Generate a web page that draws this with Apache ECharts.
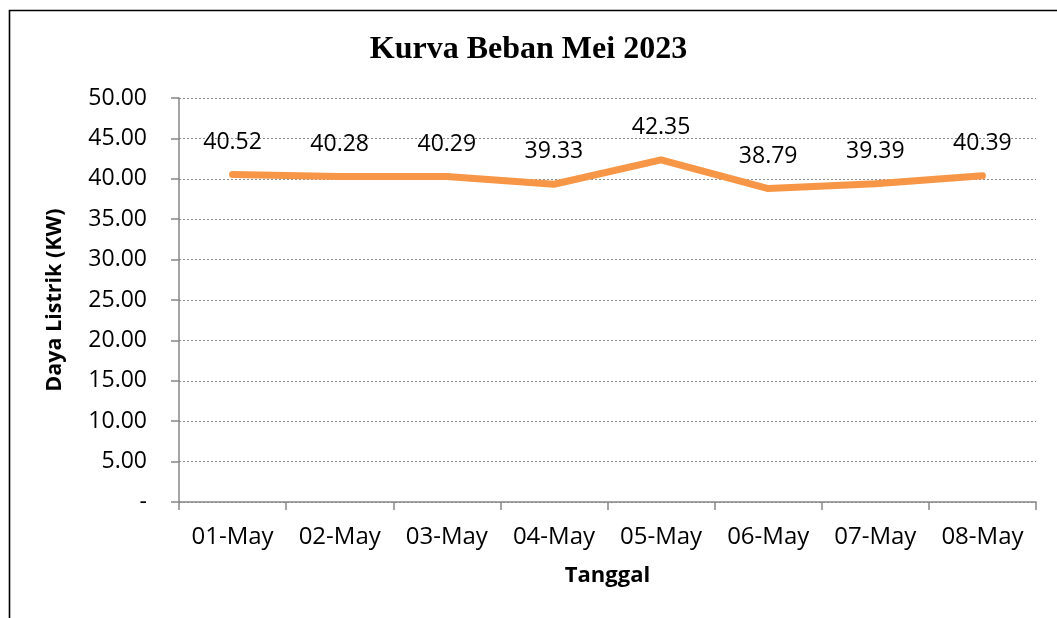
<!DOCTYPE html>
<html>
<head>
<meta charset="utf-8">
<script src="https://cdn.jsdelivr.net/npm/echarts@6/dist/echarts.min.js"></script>
<style>
html,body{margin:0;padding:0;background:#fff;}
#chart{width:1057px;height:618px;}
</style>
</head>
<body>
<div id="chart"></div>
<script>
const categories = ['01-May','02-May','03-May','04-May','05-May','06-May','07-May','08-May'];
const values = [40.52, 40.28, 40.29, 39.33, 42.35, 38.79, 39.39, 40.39];
const yMin = 0, yMax = 50, yStep = 5;
const titleText = 'Kurva Beban Mei 2023';
const xName = 'Tanggal';
const yName = 'Daya Listrik (KW)';

const chart = echarts.init(document.getElementById('chart'), null, {renderer:'canvas'});
const font = 'Open Sans';
chart.setOption({
  backgroundColor:'#ffffff',
  animation:false,
  title:{
    text:titleText, left:'center', top:29,
    textStyle:{fontFamily:'Liberation Serif', fontWeight:'bold', fontSize:32, color:'#000'}
  },
  graphic:[{
    type:'rect', left:7, top:8, silent:true,
    shape:{x:0,y:0,width:1100,height:700},
    style:{fill:'none', stroke:'#000', lineWidth:1.6}
  }],
  grid:{left:179, right:21, top:98, bottom:116},
  xAxis:{
    type:'category', data:categories, boundaryGap:true,
    name:xName, nameLocation:'middle', nameGap:63,
    nameTextStyle:{fontFamily:font, fontWeight:'bold', fontSize:22, color:'#000'},
    axisLine:{lineStyle:{color:'#868686', width:1.5}},
    axisTick:{show:true, length:8, inside:false, lineStyle:{color:'#868686', width:1.5}},
    axisLabel:{fontFamily:font, fontSize:24, color:'#000', margin:23, interval:0},
    splitLine:{show:false}
  },
  yAxis:{
    type:'value', min:yMin, max:yMax, interval:yStep,
    name:yName, nameLocation:'middle', nameGap:113, nameRotate:90,
    nameTextStyle:{fontFamily:font, fontWeight:'bold', fontSize:21.5, color:'#000'},
    axisLine:{show:true, lineStyle:{color:'#868686', width:1.5}},
    axisTick:{show:true, length:8, lineStyle:{color:'#868686', width:1.5}},
    axisLabel:{fontFamily:font, fontSize:23, color:'#000', margin:32,
      formatter:function(v){ return v===0 ? '-' : v.toFixed(2); }},
    splitLine:{show:true, lineStyle:{color:'#8c8c8c', width:1, type:[2,2]}}
  },
  series:[{
    type:'line', data:values, symbol:'circle', symbolSize:2, showSymbol:true, smooth:false,
    lineStyle:{color:'#F79646', width:7, cap:'round', join:'round'},
    itemStyle:{color:'#F79646', borderWidth:0},
    label:{show:true, position:'top', distance:20, fontFamily:font, fontSize:23, color:'#000',
      formatter:function(p){ return Number(p.value).toFixed(2); }},
    labelLayout:{hideOverlap:false}
  }]
});
</script>
</body>
</html>
